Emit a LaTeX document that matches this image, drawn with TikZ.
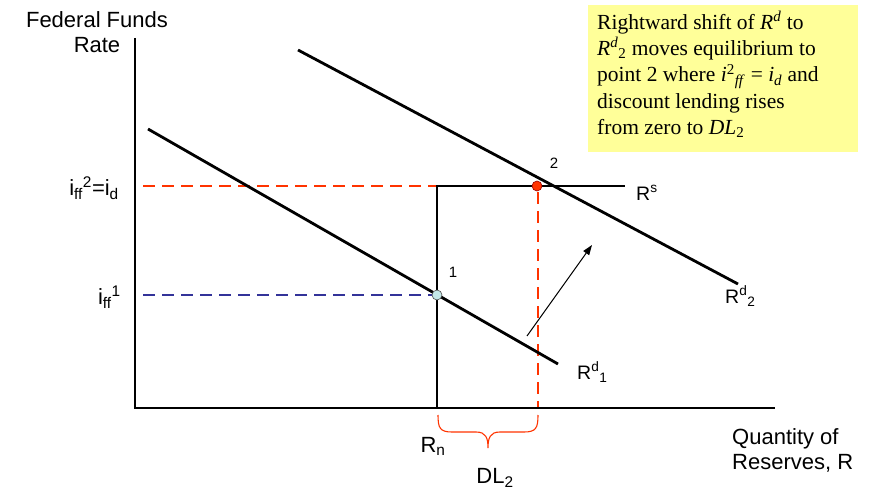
\documentclass[tikz,border=0pt]{standalone}
\usepackage{fontspec}
\setmainfont{Liberation Sans}
\newfontfamily\boxfont{Liberation Serif}
\usetikzlibrary{arrows.meta}
\definecolor{ffred}{HTML}{FF3300}
\definecolor{ffblue}{HTML}{333399}
\definecolor{boxyellow}{HTML}{FFFF99}
\definecolor{ptcyan}{HTML}{C4E8E8}
\begin{document}
\begin{tikzpicture}[x=1pt,y=-1pt,
  curve/.style={line width=2.8pt,black},
  axisline/.style={line width=1.9pt,black},
  reddash/.style={line width=2.4pt,ffred,dash pattern=on 12pt off 7pt},
  bluedash/.style={line width=2.4pt,ffblue,dash pattern=on 12pt off 7pt},
  lbl/.style={font=\fontsize{22}{25}\selectfont,inner sep=0pt},
  clbl/.style={font=\fontsize{19.5}{22}\selectfont,inner sep=0pt},
  ptlbl/.style={font=\fontsize{15}{18}\selectfont,inner sep=0pt},
  pt/.style={circle,minimum size=10pt,inner sep=0pt,draw=black!70,line width=0.6pt}
]
\useasboundingbox (0,0) rectangle (876,492);
% coordinates
\coordinate (yt) at (135,38);
\coordinate (o) at (135,408);
\coordinate (xr) at (775,408);
\coordinate (d1a) at (148,129);
\coordinate (d1b) at (558,364);
\coordinate (d2a) at (298,50);
\coordinate (d2b) at (738,284);
\coordinate (sbot) at (437,408);
\coordinate (scorner) at (437,186);
\coordinate (send) at (625,186);
\coordinate (ry2) at (143,186);
\coordinate (ry1) at (143,295);
\coordinate (rxb) at (538,408);
\coordinate (arA) at (527,336);
\coordinate (arB) at (592,245);
% dashed guides
\draw[reddash] (ry2) -- (scorner);
\draw[bluedash] (ry1) -- (437,295);
\draw[reddash] (538,192) -- (rxb);
% axes
\draw[axisline] (yt) -- (o) -- (xr);
% curves
\draw[curve] (d1a) -- (d1b);
\draw[curve] (d2a) -- (d2b);
\draw[curve] (sbot) -- (scorner) -- (send);
% shift arrow
\draw[line width=1pt,-{Triangle[length=10pt,width=7pt]}] (arA) -- (arB);
% points
\node[pt,fill=ptcyan] (p1) at (437,295) {};
\node[pt,fill=ffred,draw=red!60!black] (p2) at (537,186) {};
\node[ptlbl] (l1) at (453,272) {1};
\node[ptlbl] (l2) at (554,163) {2};
% brace
\draw[ffred,line width=1.1pt] (438,415) .. controls (438,428) and (440,432) .. (452,432) -- (476,432) .. controls (486,432) and (488,438) .. (488,448) .. controls (488,438) and (490,432) .. (500,432) -- (524,432) .. controls (536,432) and (538,428) .. (538,415);
% labels
\node[lbl,align=center] (ylab) at (97,32) {Federal Funds\\Rate};
\node[lbl,anchor=west,align=left] (xlab) at (732,450) {Quantity of\\Reserves, R};
\node[lbl,anchor=east] (iff2) at (119,188) {i\textsubscript{ff}\textsuperscript{2}=i\textsubscript{d}};
\node[lbl,anchor=east] (iff1) at (121,297) {i\textsubscript{ff}\textsuperscript{1}};
\node[lbl] (rn) at (433,446) {R\textsubscript{n}};
\node[lbl] (dl) at (495,478) {DL\textsubscript{2}};
\node[clbl,anchor=west] (rs) at (636,193) {R\textsuperscript{s}};
\node[clbl,anchor=west] (rd2) at (725,296) {R\textsuperscript{d}\textsubscript{2}};
\node[clbl,anchor=west] (rd1) at (577,372) {R\textsuperscript{d}\textsubscript{1}};
% text box
\fill[boxyellow] (588,5) rectangle (858,152);
\node[anchor=north west,inner sep=0pt,align=left,font=\boxfont\fontsize{21.5}{26.3}\selectfont] (note) at (597,11)
{Rightward shift of \textit{R}\textsuperscript{\textit{d}} to\\
\textit{R}\textsuperscript{\textit{d}}\textsubscript{2} moves equilibrium to\\
point 2 where \textit{i}\textsuperscript{2}\textsubscript{\textit{ff}} = \textit{i}\textsubscript{\textit{d}} and\\
discount lending rises\\
from zero to \textit{DL}\textsubscript{2}};
\end{tikzpicture}
\end{document}
